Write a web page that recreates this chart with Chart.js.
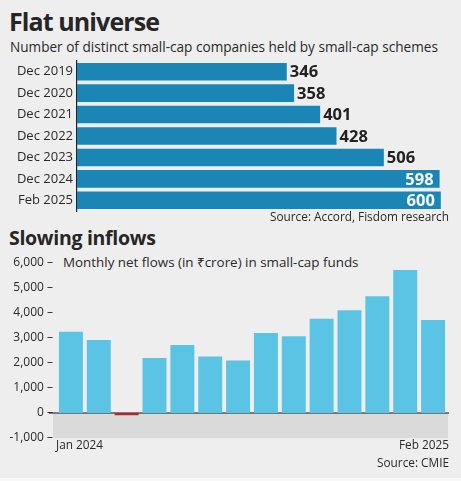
<!DOCTYPE html>
<html><head><meta charset="utf-8">
<script src="https://cdn.jsdelivr.net/npm/chart.js@4.4.1/dist/chart.umd.min.js"></script>
<style>
html,body{margin:0;padding:0;}
body{width:461px;height:481px;background:#eeeeee;position:relative;overflow:hidden;font-family:"Open Sans","Noto Sans","DejaVu Sans",sans-serif;color:#222;}
.t{position:absolute;white-space:nowrap;line-height:1;}
#c1{position:absolute;left:0;top:56px;}
#c2{position:absolute;left:0;top:250px;}
#strip{position:absolute;left:0;top:478px;width:461px;height:3px;background:#f8f8f8;}
</style></head><body>
<div class="t" style="left:9px;top:9px;font-size:25px;font-weight:700;letter-spacing:-0.9px;color:#262626;">Flat universe</div>
<div class="t" style="left:10px;top:40px;font-size:13.6px;color:#2a2a2a;">Number of distinct small-cap companies held by small-cap schemes</div>
<canvas id="c1" width="461" height="160"></canvas>
<div class="t" style="right:12px;top:211px;font-size:11.8px;color:#2a2a2a;">Source: Accord, Fisdom research</div>
<div class="t" style="left:9px;top:228px;font-size:19.5px;font-weight:700;letter-spacing:-0.3px;color:#262626;">Slowing inflows</div>
<div class="t" style="left:63px;top:256px;font-size:13.4px;color:#2a2a2a;">Monthly net flows (in ₹crore) in small-cap funds</div>
<canvas id="c2" width="461" height="215"></canvas>
<div class="t" style="right:12px;top:457px;font-size:11.8px;color:#2a2a2a;">Source: CMIE</div>
<div id="strip"></div>
<script>
const FONT = '"Open Sans","Noto Sans","DejaVu Sans",sans-serif';

// ---- data ----
const topCategories = ['Dec 2019','Dec 2020','Dec 2021','Dec 2022','Dec 2023','Dec 2024','Feb 2025'];
const topValues = [346, 358, 401, 428, 506, 598, 600];

const flowMonths = ['Jan 2024','Feb 2024','Mar 2024','Apr 2024','May 2024','Jun 2024','Jul 2024',
                    'Aug 2024','Sep 2024','Oct 2024','Nov 2024','Dec 2024','Jan 2025','Feb 2025'];
const flowValues = [3250, 2920, -90, 2200, 2720, 2260, 2100, 3200, 3070, 3770, 4110, 4670, 5720, 3720];
const flowTickMin = -1000;
const flowTickMax = 6000;
const flowTickStep = 1000;

// ---- chart 1 ----
const valueLabels = {
  id: 'valueLabels',
  afterDatasetsDraw(chart) {
    const ctx = chart.ctx;
    const meta = chart.getDatasetMeta(0);
    ctx.save();
    ctx.font = '700 16.5px ' + FONT;
    ctx.textBaseline = 'middle';
    meta.data.forEach((bar, i) => {
      const txt = String(topValues[i]);
      const w = ctx.measureText(txt).width;
      if (bar.x + 4 + w > chart.chartArea.right) {
        ctx.fillStyle = '#ffffff';
        ctx.textAlign = 'right';
        ctx.fillText(txt, bar.x - 6, bar.y + 1);
      } else {
        ctx.fillStyle = '#222222';
        ctx.textAlign = 'left';
        ctx.fillText(txt, bar.x + 3, bar.y + 1);
      }
    });
    ctx.restore();
  }
};

new Chart(document.getElementById('c1'), {
  type: 'bar',
  data: {
    labels: topCategories,
    datasets: [{ data: topValues, backgroundColor: '#1b86b6', barPercentage: 0.82, categoryPercentage: 1 }]
  },
  options: {
    indexAxis: 'y', responsive: false, animation: false, events: [],
    layout: { padding: { top: 5, bottom: 5, right: 2, left: 0 } },
    plugins: { legend: { display: false }, tooltip: { enabled: false } },
    scales: {
      x: { display: false, min: 0, max: 630 },
      y: {
        afterFit(s) { s.width = 77; s.paddingTop = 0; s.paddingBottom = 0; },
        grid: { display: false, drawTicks: false },
        border: { display: true, color: '#222', width: 1.2 },
        ticks: { padding: 4, color: '#2a2a2a', font: { family: FONT, size: 13 } }
      }
    }
  },
  plugins: [valueLabels]
});

// ---- chart 2 ----
const flowDecor = {
  id: 'flowDecor',
  beforeDatasetsDraw(chart) {
    const ctx = chart.ctx, a = chart.chartArea, y = chart.scales.y;
    const y0 = y.getPixelForValue(0), yMin = y.getPixelForValue(flowTickMin);
    ctx.save();
    ctx.fillStyle = '#dadada';
    ctx.fillRect(a.left - 4, y0, (a.right + 1) - (a.left - 4), yMin - y0);
    ctx.strokeStyle = '#111';
    ctx.lineWidth = 1.2;
    ctx.beginPath();
    ctx.moveTo(a.left - 8, y0);
    ctx.lineTo(a.right + 2, y0);
    ctx.stroke();
    ctx.restore();
  },
  afterDraw(chart) {
    const ctx = chart.ctx, a = chart.chartArea;
    ctx.save();
    ctx.font = '11.8px ' + FONT;
    ctx.fillStyle = '#2a2a2a';
    ctx.textBaseline = 'middle';
    ctx.textAlign = 'left';
    ctx.fillText(flowMonths[0], a.left - 1, a.bottom + 8);
    ctx.textAlign = 'right';
    ctx.fillText(flowMonths[flowMonths.length - 1], a.right + 2, a.bottom + 8);
    ctx.restore();
  }
};

new Chart(document.getElementById('c2'), {
  type: 'bar',
  data: {
    labels: flowMonths,
    datasets: [{
      data: flowValues,
      backgroundColor: flowValues.map(v => v < 0 ? '#b3262d' : '#5bc4e4'),
      barPercentage: 0.86, categoryPercentage: 1
    }]
  },
  options: {
    responsive: false, animation: false, events: [],
    layout: { padding: { top: 13, bottom: 27, right: 14, left: 0 } },
    plugins: { legend: { display: false }, tooltip: { enabled: false } },
    scales: {
      x: { display: false },
      y: {
        min: flowTickMin, max: flowTickMax,
        afterFit(s) { s.width = 57; s.paddingTop = 0; s.paddingBottom = 0; },
        grid: { display: false, drawTicks: false },
        border: { display: false },
        ticks: {
          stepSize: flowTickStep, padding: 4, color: '#2a2a2a',
          font: { family: FONT, size: 12 },
          callback: v => v.toLocaleString('en-US') + ' –'
        }
      }
    }
  },
  plugins: [flowDecor]
});
</script>
</body></html>
